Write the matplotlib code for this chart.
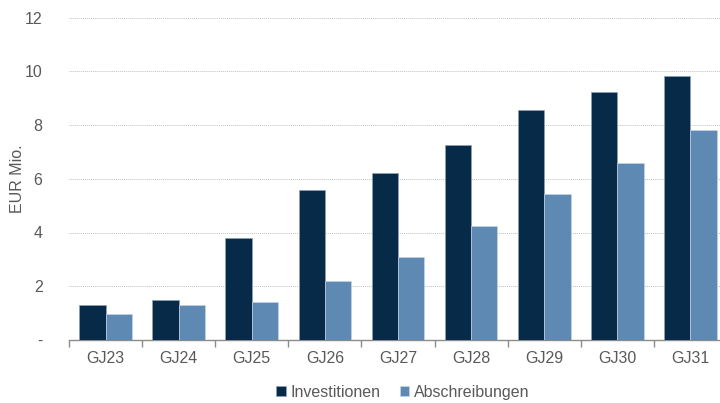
import matplotlib.pyplot as plt
import numpy as np

plt.rcParams['font.family'] = ['Liberation Sans', 'DejaVu Sans']

jahre = ['GJ23', 'GJ24', 'GJ25', 'GJ26', 'GJ27', 'GJ28', 'GJ29', 'GJ30', 'GJ31']
investitionen = [1.31, 1.50, 3.78, 5.59, 6.22, 7.27, 8.55, 9.22, 9.83]
abschreibungen = [0.97, 1.31, 1.42, 2.18, 3.07, 4.24, 5.43, 6.60, 7.82]
y_ticks = [0, 2, 4, 6, 8, 10, 12]
y_labels = ['-', '2', '4', '6', '8', '10', '12']

dunkel = '#062a48'
hell = '#5e89b3'
grau = '#595959'
fs = 11.5

fig = plt.figure(figsize=(7.2, 4.03), dpi=100)
ax = fig.add_axes([69 / 720, 63 / 403, 658 / 720, 322.5 / 403])

x = np.arange(len(jahre))
w = 0.36
ax.bar(x - w / 2, investitionen, w, color=dunkel, edgecolor='#8fa3b8', linewidth=0.5,
       label='Investitionen', zorder=3)
ax.bar(x + w / 2, abschreibungen, w, color=hell, edgecolor='#c4d4e4', linewidth=0.5,
       label='Abschreibungen', zorder=3)

ax.set_xlim(-0.5, len(jahre) - 0.5)
ax.set_ylim(0, 12)
ax.set_yticks(y_ticks)
ax.set_yticklabels(y_labels)
ax.set_xticks(x)
ax.set_xticklabels(jahre)
ax.set_xticks(np.arange(-0.5, len(jahre)), minor=True)

for y in y_ticks[1:]:
    ax.axhline(y, color='#c0c0c0', linestyle=(0, (1, 1)), linewidth=0.7, zorder=1)

for s in ['top', 'right', 'left']:
    ax.spines[s].set_visible(False)
ax.spines['bottom'].set_color('#8c8c8c')
ax.spines['bottom'].set_linewidth(1.0)

ax.tick_params(axis='y', length=0, pad=19, labelsize=fs, labelcolor=grau)
ax.tick_params(axis='x', which='major', length=0, pad=8, labelsize=fs, labelcolor=grau)
ax.tick_params(axis='x', which='minor', length=5, width=1, color='#8c8c8c', direction='out')

ax.set_ylabel('EUR Mio.', fontsize=fs, color=grau)
ax.yaxis.set_label_coords(-44 / 658, 0.5)

fig.legend(loc='lower center', bbox_to_anchor=(403 / 720, -0.028), ncol=2, frameon=False,
           fontsize=fs, labelcolor=grau, handlelength=0.6, handleheight=0.6,
           handletextpad=0.3, columnspacing=1.2)

fig.savefig('out.png', dpi=100)
